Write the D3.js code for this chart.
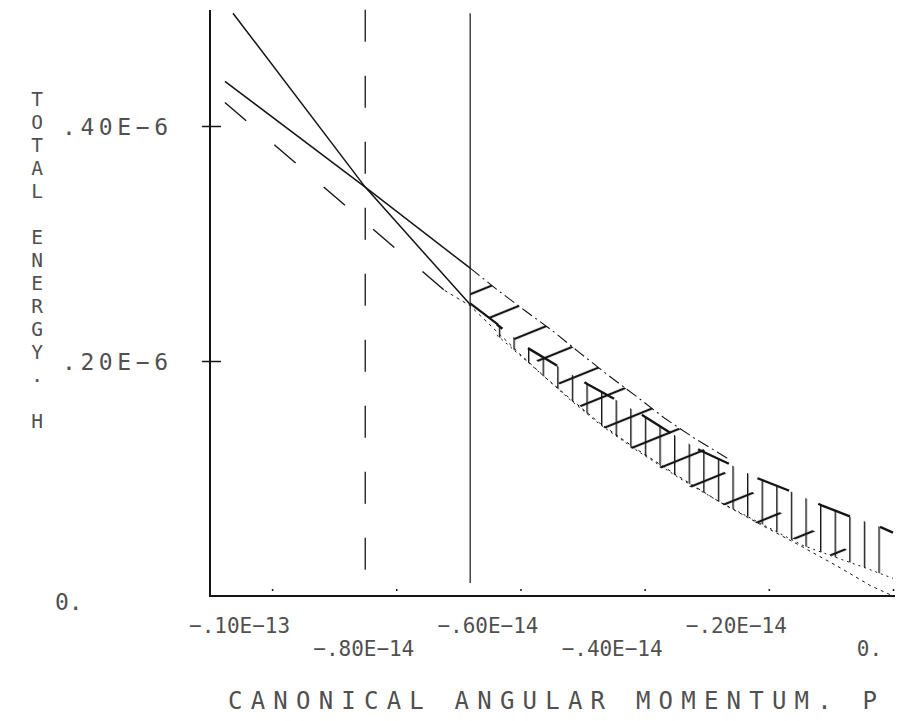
<!DOCTYPE html>
<html>
<head>
<meta charset="utf-8">
<script src="https://cdn.jsdelivr.net/npm/d3@7"></script>
<style>
  html, body { margin: 0; padding: 0; background: #fff; }
  svg { display: block; }
  text { font-family: "DejaVu Sans Mono", "Liberation Mono", monospace; fill: #505050; }
</style>
</head>
<body>
<svg id="chart" width="907" height="721"></svg>
<script>
// Momentum P in units of 1e-14, total energy H in units of 1e-6.
const xTicks = [-1.0, -0.8, -0.6, -0.4, -0.2, 0];
const xTickLabels = ["−.10E−13", "−.80E−14", "−.60E−14", "−.40E−14", "−.20E−14", "0."];
const yTicks = [0, 0.2, 0.4];
const yTickLabels = ["0.", ".20E−6", ".40E−6"];
const xTitle = "CANONICAL ANGULAR MOMENTUM. P";
const yTitle = "TOTAL ENERGY. H";

// Straight boundaries meeting at the crossing point
const steepLine = [[-1.063, 0.496], [-0.850, 0.348], [-0.681, 0.248]];
const gentleLine = [[-1.076, 0.438], [-0.850, 0.348], [-0.681, 0.279]];
const dashedLine = [[-1.076, 0.420], [-0.722, 0.260]];

// Vertical reference momenta
const dashedMarkerP = -0.850;
const solidMarkerP = -0.681;

// Upper edge of the diagonally hatched band (dash-dot part)
const upperEdge = [[-0.681, 0.279], [-0.636, 0.260], [-0.593, 0.243], [-0.549, 0.226], [-0.507, 0.208],
  [-0.459, 0.188], [-0.411, 0.169], [-0.367, 0.151], [-0.319, 0.134], [-0.266, 0.117]];
// Diagonal band: top and bottom
const bandATop = [[-0.681, 0.279], [-0.636, 0.260], [-0.593, 0.243], [-0.549, 0.226], [-0.507, 0.208],
  [-0.459, 0.188], [-0.411, 0.169], [-0.367, 0.151], [-0.319, 0.133], [-0.267, 0.103],
  [-0.214, 0.084], [-0.166, 0.065], [-0.097, 0.048], [-0.061, 0.034]];
const bandABottom = [[-0.681, 0.249], [-0.636, 0.231], [-0.588, 0.208], [-0.544, 0.184], [-0.485, 0.151],
  [-0.407, 0.120], [-0.327, 0.093], [-0.267, 0.076], [-0.206, 0.058], [-0.142, 0.045],
  [-0.093, 0.033], [-0.061, 0.031]];
// Vertical band: top (heavy dashes) and bottom
const bandBTop = [[-0.638, 0.231], [-0.588, 0.211], [-0.544, 0.197], [-0.491, 0.180], [-0.453, 0.169],
  [-0.404, 0.154], [-0.362, 0.140], [-0.311, 0.124], [-0.266, 0.113], [-0.217, 0.100],
  [-0.169, 0.090], [-0.114, 0.077], [-0.066, 0.067], [-0.026, 0.060], [0, 0.054]];
const bandBBottom = [[-0.638, 0.222], [-0.601, 0.205], [-0.560, 0.186], [-0.520, 0.167], [-0.472, 0.146],
  [-0.416, 0.125], [-0.343, 0.100], [-0.279, 0.080], [-0.214, 0.062], [-0.145, 0.043],
  [-0.093, 0.033], [-0.045, 0.024], [0, 0.015]];
// Lowest dotted boundary
const lowerEdge = [[-0.722, 0.260], [-0.681, 0.247], [-0.638, 0.225], [-0.601, 0.206], [-0.560, 0.186],
  [-0.520, 0.168], [-0.472, 0.147], [-0.416, 0.126], [-0.343, 0.101], [-0.279, 0.080],
  [-0.214, 0.061], [-0.150, 0.043], [-0.085, 0.024], [-0.037, 0.009], [0, 0.0]];

const svg = d3.select("#chart");
const x = d3.scaleLinear().domain([-1.1, 0]).range([210, 893]);
const y = d3.scaleLinear().domain([0, 0.5]).range([596, 8.5]);
const line = d3.line().x(d => x(d[0])).y(d => y(d[1]));
const ink = "#151515";
const textInk = "#505050";

// Hatch patterns
const defs = svg.append("defs");
const diag = defs.append("pattern").attr("id", "hatchDiag")
  .attr("patternUnits", "userSpaceOnUse").attr("width", 12).attr("height", 29)
  .attr("patternTransform", "rotate(-22)");
diag.append("line").attr("x1", 0).attr("x2", 12).attr("y1", 14).attr("y2", 14)
  .attr("stroke", ink).attr("stroke-width", 2.2);
const vert = defs.append("pattern").attr("id", "hatchVert")
  .attr("patternUnits", "userSpaceOnUse").attr("x", x(0)).attr("y", 0)
  .attr("width", 14.6).attr("height", 20);
vert.append("line").attr("x1", 0.7).attr("x2", 0.7).attr("y1", 0).attr("y2", 20)
  .attr("stroke", ink).attr("stroke-width", 1.4);

const band = (top, bottom) => line(top.concat(bottom.slice().reverse())) + "Z";
svg.append("path").attr("d", band(bandBTop, bandBBottom)).attr("fill", "url(#hatchVert)");
svg.append("path").attr("d", band(bandATop, bandABottom)).attr("fill", "url(#hatchDiag)");

// Vertical markers
svg.append("line").attr("x1", x(dashedMarkerP)).attr("x2", x(dashedMarkerP))
  .attr("y1", y(0.499)).attr("y2", y(0.018))
  .attr("stroke", ink).attr("stroke-width", 1.3).attr("stroke-dasharray", "32,34");
svg.append("line").attr("x1", x(solidMarkerP)).attr("x2", x(solidMarkerP))
  .attr("y1", y(0.496)).attr("y2", y(0.011))
  .attr("stroke", ink).attr("stroke-width", 1.2);

// Boundary curves
svg.append("path").attr("d", line(steepLine)).attr("fill", "none")
  .attr("stroke", ink).attr("stroke-width", 1.5);
svg.append("path").attr("d", line(gentleLine)).attr("fill", "none")
  .attr("stroke", ink).attr("stroke-width", 1.5);
svg.append("path").attr("d", line(bandABottom.slice(0, 2))).attr("fill", "none")
  .attr("stroke", ink).attr("stroke-width", 2.2);
svg.append("path").attr("d", line(dashedLine)).attr("fill", "none")
  .attr("stroke", ink).attr("stroke-width", 1.4).attr("stroke-dasharray", "28,37");
svg.append("path").attr("d", line(upperEdge)).attr("fill", "none")
  .attr("stroke", ink).attr("stroke-width", 1.1).attr("stroke-dasharray", "12,4,2,4");
svg.append("path").attr("d", line(bandBTop)).attr("fill", "none")
  .attr("stroke", ink).attr("stroke-width", 2.4).attr("stroke-dasharray", "34,32")
  .attr("stroke-dashoffset", 27);
svg.append("path").attr("d", line(bandBBottom)).attr("fill", "none")
  .attr("stroke", ink).attr("stroke-width", 1).attr("stroke-dasharray", "2,4");
svg.append("path").attr("d", line(lowerEdge)).attr("fill", "none")
  .attr("stroke", ink).attr("stroke-width", 1).attr("stroke-dasharray", "3,4");

// Axes
const xAxis = svg.append("g").attr("transform", `translate(0,${y(0)})`)
  .call(d3.axisBottom(x).tickValues(xTicks).tickFormat((d, i) => xTickLabels[i]).tickSizeOuter(0));
xAxis.select(".domain").remove();
xAxis.selectAll(".tick line").attr("y1", -5).attr("y2", -7).attr("stroke", ink).attr("stroke-width", 1.5);
xAxis.selectAll(".tick text")
  .attr("font-size", 21)
  .attr("y", (d, i) => i % 2 === 0 ? 37 : 60)
  .attr("dy", 0)
  .attr("dx", (d, i) => -33 + (8 - xTickLabels[i].length) * 1.5)
  .attr("text-anchor", "middle")
  .attr("textLength", (d, i) => xTickLabels[i].length === 8 ? 101 : null)
  .style("fill", textInk);
svg.append("line").attr("x1", x(-1.1)).attr("x2", 895).attr("y1", y(0)).attr("y2", y(0))
  .attr("stroke", ink).attr("stroke-width", 2);

const yAxis = svg.append("g").attr("transform", `translate(${x(-1.1)},0)`)
  .call(d3.axisLeft(y).tickValues(yTicks).tickFormat((d, i) => yTickLabels[i]).tickSizeOuter(0));
yAxis.select(".domain").remove();
yAxis.selectAll(".tick line").attr("x1", d => d === 0 ? 0 : -8).attr("x2", d => d === 0 ? 0 : 11)
  .attr("stroke", ink).attr("stroke-width", 1.5);
yAxis.selectAll(".tick text")
  .attr("font-size", 23)
  .attr("text-anchor", "start")
  .attr("x", (d, i) => yTickLabels[i].length > 2 ? -148 : -155)
  .attr("dy", (d) => d === 0 ? "0.6em" : "0.35em")
  .attr("textLength", (d, i) => yTickLabels[i].length > 2 ? 106 : null)
  .style("fill", textInk);
svg.append("line").attr("x1", x(-1.1)).attr("x2", x(-1.1)).attr("y1", 10).attr("y2", y(0) + 1)
  .attr("stroke", ink).attr("stroke-width", 2);

// Titles
svg.append("text").attr("x", 228).attr("y", 709).attr("font-size", 24)
  .attr("textLength", 649).attr("lengthAdjust", "spacing").text(xTitle);
// Axis title stacked one letter per line
svg.append("g").selectAll("text")
  .data(yTitle.split("").map((c, i) => ({ c, i })).filter(d => d.c !== " "))
  .join("text")
  .attr("x", 37).attr("y", d => 99 + d.i * 23)
  .attr("dy", "0.35em").attr("text-anchor", "middle").attr("font-size", 19.5)
  .text(d => d.c);
</script>
</body>
</html>
